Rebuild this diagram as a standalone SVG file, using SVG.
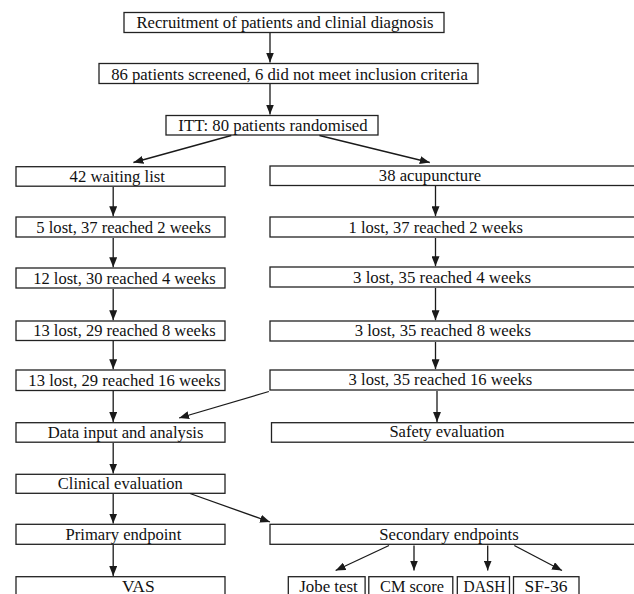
<svg xmlns="http://www.w3.org/2000/svg" width="634" height="594" viewBox="0 0 634 594">
<defs>
<marker id="ah" markerUnits="userSpaceOnUse" markerWidth="10" markerHeight="8" refX="10" refY="4" orient="auto">
<path d="M0,0 L10,4 L0,8 z" fill="#1a1a1a"/>
</marker>
<style>
rect{fill:#fff;stroke:#222;stroke-width:1.3}
text{font-family:"Liberation Serif","Times New Roman",serif;font-size:17.5px;fill:#111;text-anchor:middle}
.c line{stroke:#1a1a1a;stroke-width:1.3;marker-end:url(#ah)}
</style>
</defs>
<rect x="0" y="0" width="634" height="594" style="fill:#fff;stroke:none"/>
<g id="n1"><rect x="124" y="12.5" width="320" height="20"/><text x="285" y="28.3" textLength="297" lengthAdjust="spacingAndGlyphs">Recruitment of patients and clinial diagnosis</text></g>
<g id="n2"><rect x="99" y="63.5" width="379" height="20"/><text x="289.5" y="80" textLength="356.7" lengthAdjust="spacingAndGlyphs">86 patients screened, 6 did not meet inclusion criteria</text></g>
<g id="n3"><rect x="166" y="115.5" width="212" height="19.5"/><text x="273" y="130.7" textLength="189.3" lengthAdjust="spacingAndGlyphs">ITT: 80 patients randomised</text></g>
<g id="l1"><rect x="16" y="166.7" width="209" height="19.5"/><text x="117.3" y="181.7" textLength="95.4" lengthAdjust="spacingAndGlyphs">42 waiting list</text></g>
<g id="r1"><rect x="270" y="166" width="380" height="19.5"/><text x="430" y="181" textLength="102.3" lengthAdjust="spacingAndGlyphs">38 acupuncture</text></g>
<g id="l2"><rect x="16" y="217" width="209" height="20"/><text x="123.7" y="233" textLength="174.7" lengthAdjust="spacingAndGlyphs">5 lost, 37 reached 2 weeks</text></g>
<g id="r2"><rect x="270" y="217" width="380" height="20"/><text x="435.7" y="233" textLength="174.3" lengthAdjust="spacingAndGlyphs">1 lost, 37 reached 2 weeks</text></g>
<g id="l3"><rect x="16" y="268" width="209" height="20"/><text x="124.4" y="284" textLength="182.4" lengthAdjust="spacingAndGlyphs">12 lost, 30 reached 4 weeks</text></g>
<g id="r3"><rect x="270" y="267" width="380" height="20"/><text x="442" y="283" textLength="177.9" lengthAdjust="spacingAndGlyphs">3 lost, 35 reached 4 weeks</text></g>
<g id="l4"><rect x="16" y="321" width="209" height="19.5"/><text x="124.4" y="335.7" textLength="182.4" lengthAdjust="spacingAndGlyphs">13 lost, 29 reached 8 weeks</text></g>
<g id="r4"><rect x="270" y="321" width="380" height="20"/><text x="442.8" y="335.5" textLength="176.3" lengthAdjust="spacingAndGlyphs">3 lost, 35 reached 8 weeks</text></g>
<g id="l5"><rect x="16" y="370" width="209" height="20.5"/><text x="124.4" y="385.7" textLength="192.1" lengthAdjust="spacingAndGlyphs">13 lost, 29 reached 16 weeks</text></g>
<g id="r5"><rect x="270" y="370" width="380" height="20"/><text x="440.4" y="385.3" textLength="183.6" lengthAdjust="spacingAndGlyphs">3 lost, 35 reached 16 weeks</text></g>
<g id="l6"><rect x="16" y="422.7" width="209" height="19.5"/><text x="125.6" y="437.7" textLength="155.7" lengthAdjust="spacingAndGlyphs">Data input and analysis</text></g>
<g id="r6"><rect x="271.5" y="422.7" width="380" height="19.5"/><text x="447" y="437.3" textLength="115.2" lengthAdjust="spacingAndGlyphs">Safety evaluation</text></g>
<g id="l7"><rect x="16" y="474.3" width="209" height="19"/><text x="120.3" y="489" textLength="125" lengthAdjust="spacingAndGlyphs">Clinical evaluation</text></g>
<g id="l8"><rect x="16" y="524.3" width="209" height="20"/><text x="123.4" y="540" textLength="115.7" lengthAdjust="spacingAndGlyphs">Primary endpoint</text></g>
<g id="r8"><rect x="270" y="524.3" width="380" height="20"/><text x="449" y="540" textLength="139.5" lengthAdjust="spacingAndGlyphs">Secondary endpoints</text></g>
<g id="l9"><rect x="16" y="576.7" width="209" height="30"/><text x="138.3" y="591.5">VAS</text></g>
<g id="b1"><rect x="288.3" y="576.7" width="76.8" height="30"/><text x="328.5" y="591.5" textLength="58.6" lengthAdjust="spacingAndGlyphs">Jobe test</text></g>
<g id="b2"><rect x="368.8" y="576.7" width="84" height="30"/><text x="412" y="591.5" textLength="63.9" lengthAdjust="spacingAndGlyphs">CM score</text></g>
<g id="b3"><rect x="457.3" y="576.7" width="52.2" height="30"/><text x="484.5" y="591.5" textLength="42" lengthAdjust="spacingAndGlyphs">DASH</text></g>
<g id="b4"><rect x="513.5" y="576.7" width="65.5" height="30"/><text x="546" y="591.5">SF-36</text></g>
<g class="c" id="connectors">
<line x1="270" y1="33" x2="270" y2="62.5"/>
<line x1="270" y1="84" x2="270" y2="114.5"/>
<line x1="231.3" y1="135.5" x2="133.4" y2="162.5"/>
<line x1="319.4" y1="135.5" x2="429.8" y2="162.5"/>
<line x1="113.2" y1="187" x2="113.2" y2="216.2"/>
<line x1="435.5" y1="186" x2="435.5" y2="216.2"/>
<line x1="113.2" y1="238" x2="113.2" y2="267.2"/>
<line x1="435.5" y1="238" x2="435.5" y2="266.2"/>
<line x1="113.2" y1="289" x2="113.2" y2="320.2"/>
<line x1="435.5" y1="288" x2="435.5" y2="320.2"/>
<line x1="113.2" y1="341" x2="113.2" y2="369.2"/>
<line x1="435.5" y1="342" x2="435.5" y2="369.2"/>
<line x1="113.2" y1="391" x2="113.2" y2="421.9"/>
<line x1="437" y1="391" x2="437" y2="421.9"/>
<line x1="268.9" y1="391.5" x2="179.1" y2="418"/>
<line x1="113.2" y1="443" x2="113.2" y2="473.5"/>
<line x1="113.2" y1="494" x2="113.2" y2="523.5"/>
<line x1="190" y1="493.5" x2="270" y2="522"/>
<line x1="113.2" y1="545" x2="113.2" y2="575.9"/>
<line x1="389" y1="545.5" x2="335.6" y2="570.5"/>
<line x1="414" y1="545.5" x2="414" y2="570.5"/>
<line x1="487.7" y1="545.5" x2="487.7" y2="570.5"/>
<line x1="514.3" y1="545.5" x2="562" y2="570.5"/>
</g>
</svg>
